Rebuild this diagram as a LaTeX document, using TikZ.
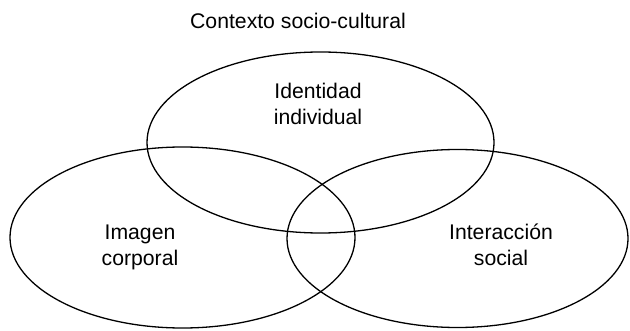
\documentclass[tikz,border=0pt]{standalone}
\usepackage{fontspec}
\setmainfont{Liberation Sans}
\begin{document}
\begin{tikzpicture}[x=0.5pt,y=-0.5pt,
  set/.style={line width=0.65pt},
  lbl/.style={align=center,font=\fontsize{10.6}{13}\selectfont,inner sep=0pt}]
\useasboundingbox (0,0) rectangle (630,331);

\draw[set] (320.5,142.5) ellipse [x radius=173.5, y radius=90.5];
\draw[set] (182.5,237.5) ellipse [x radius=172.5, y radius=90.5];
\draw[set] (457.5,238.5) ellipse [x radius=170.5, y radius=89];

% anchor=base sits on the last line
\node[lbl,anchor=base] (ctx) at (298,28.3) {Contexto socio-cultural};
\node[lbl,anchor=base] (ident) at (318,125) {Identidad\\individual};
\node[lbl,anchor=base] (img) at (140,265) {Imagen\\corporal};
\node[lbl,anchor=base] (inter) at (501,265) {Interacción\\social};
\end{tikzpicture}
\end{document}
